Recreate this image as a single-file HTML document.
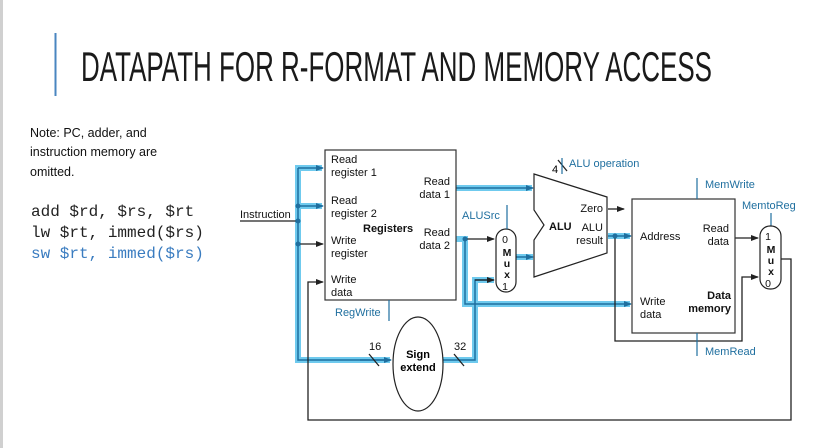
<!DOCTYPE html>
<html><head><meta charset="utf-8"><style>
html,body{margin:0;padding:0;background:#fff}
svg{display:block}
</style></head><body>
<svg width="832" height="448" viewBox="0 0 832 448" xmlns="http://www.w3.org/2000/svg" font-family="Liberation Sans, sans-serif">
<defs>
<marker id="a" markerWidth="8" markerHeight="6" refX="7" refY="3" orient="auto" markerUnits="userSpaceOnUse"><path d="M0,0 L8,3 L0,6 z" fill="#222"/></marker>
<marker id="b" markerWidth="8" markerHeight="6" refX="7" refY="3" orient="auto" markerUnits="userSpaceOnUse"><path d="M0,0 L8,3 L0,6 z" fill="#1f6f9f"/></marker>
</defs>
<rect x="0" y="0" width="3" height="448" fill="#d0d0d0"/>
<line x1="55.5" y1="33" x2="55.5" y2="96" stroke="#4a86c0" stroke-width="2"/>
<text x="81" y="81" font-size="42" textLength="631" lengthAdjust="spacingAndGlyphs" fill="#1a1a1a">DATAPATH FOR R-FORMAT AND MEMORY ACCESS</text>
<g font-size="12.5" fill="#111">
<text x="30" y="137">Note: PC, adder, and</text>
<text x="30" y="156">instruction memory are</text>
<text x="30" y="176">omitted.</text>
</g>
<g font-family="Liberation Mono, monospace" font-size="16">
<text x="31" y="216" fill="#222">add $rd, $rs, $rt</text>
<text x="31" y="237" fill="#222">lw $rt, immed($rs)</text>
<text x="31" y="258" fill="#3a7cc0">sw $rt, immed($rs)</text>
</g>
<!-- blue highlights -->
<g stroke="#6fcaee" stroke-width="6" fill="none" stroke-linejoin="miter">
<path d="M322,168 H298 V360 H390"/>
<path d="M298,206 H322"/>
<path d="M456,188 H532"/>
<path d="M456,239 H465 V304 H630"/>
<path d="M443,360 H475 V280 H494"/>
<path d="M516,257 H533"/>
<path d="M608,236 H630"/>
</g>
<g stroke="#1f6f9f" stroke-width="1.5" fill="none">
<path d="M298,168 V360 H390" />
<path d="M298,168 H323" marker-end="url(#b)"/>
<path d="M298,206 H323" marker-end="url(#b)"/>
<path d="M456,188 H533" marker-end="url(#b)"/>
<path d="M465,239 V304 H631" marker-end="url(#b)"/>
<path d="M443,360 H475 V280 H494"/>
<path d="M360,360 H391" marker-end="url(#b)"/>
<path d="M516,257 H533" marker-end="url(#b)"/>
<path d="M608,236 H631" marker-end="url(#b)"/>
</g>
<!-- black wires -->
<g stroke="#222" stroke-width="1.3" fill="none">
<path d="M240,221 H298"/>
<path d="M298,244 H323" marker-end="url(#a)"/>
<path d="M465,239 H494" marker-end="url(#a)"/>
<path d="M475,280 H494" marker-end="url(#a)"/>
<path d="M608,209 H624" marker-end="url(#a)"/>
<path d="M735,238 H758" marker-end="url(#a)"/>
<path d="M615,236 V341 H742 V277 H758" marker-end="url(#a)"/>
<path d="M781,259 H791 V420 H308 V282 H323" marker-end="url(#a)"/>
<path d="M369,354 L379,366"/>
<path d="M454,354 L464,366"/>
<path d="M558,160 L567,171"/>
</g>
<g fill="#1f6f9f">
<circle cx="298" cy="206" r="2.5"/><circle cx="298" cy="221" r="2.5"/><circle cx="298" cy="244" r="2.5"/>
<circle cx="465" cy="239" r="2.5"/><circle cx="615" cy="236" r="2.5"/>
</g>
<!-- registers -->
<rect x="325" y="150" width="131" height="150" fill="#fff" stroke="#333" stroke-width="1.2"/>
<g font-size="11" fill="#111">
<text x="240" y="218">Instruction</text>
<text x="331" y="163">Read</text><text x="331" y="176">register 1</text>
<text x="331" y="204">Read</text><text x="331" y="217">register 2</text>
<text x="331" y="244">Write</text><text x="331" y="257">register</text>
<text x="331" y="283">Write</text><text x="331" y="296">data</text>
<text x="450" y="185" text-anchor="end">Read</text><text x="450" y="198" text-anchor="end">data 1</text>
<text x="450" y="236" text-anchor="end">Read</text><text x="450" y="249" text-anchor="end">data 2</text>
<text x="363" y="232" font-weight="bold">Registers</text>
<text x="369" y="350">16</text><text x="454" y="350">32</text>
</g>
<line x1="389" y1="300" x2="389" y2="321" stroke="#1f6f9f" stroke-width="1.2"/>
<text x="335" y="316" font-size="11" fill="#1f6f9f">RegWrite</text>
<!-- sign extend -->
<ellipse cx="418" cy="364" rx="25" ry="47" fill="#fff" stroke="#222" stroke-width="1.2"/>
<text x="418" y="358" font-size="11" font-weight="bold" text-anchor="middle">Sign</text>
<text x="418" y="371" font-size="11" font-weight="bold" text-anchor="middle">extend</text>
<!-- mux1 -->
<rect x="496" y="229" width="20" height="63" rx="10" fill="#fff" stroke="#222" stroke-width="1.2"/>
<line x1="507" y1="205" x2="507" y2="229" stroke="#1f6f9f" stroke-width="1.2"/>
<text x="462" y="219" font-size="11" fill="#1f6f9f">ALUSrc</text>
<g font-size="10.5" text-anchor="middle" fill="#111">
<text x="505" y="243">0</text><text x="507" y="256" font-weight="bold">M</text><text x="507" y="267" font-weight="bold">u</text><text x="507" y="278" font-weight="bold">x</text><text x="505" y="290">1</text>
</g>
<!-- ALU -->
<path d="M534,174 L607,197 L607,253 L534,277 L534,240 L544,225 L534,210 Z" fill="#fff" stroke="#222" stroke-width="1.2"/>
<line x1="562" y1="174" x2="562" y2="158" stroke="#1f6f9f" stroke-width="1.2"/>
<text x="552" y="173" font-size="11">4</text>
<text x="569" y="167" font-size="11" fill="#1f6f9f">ALU operation</text>
<g font-size="11" fill="#111">
<text x="549" y="230" font-weight="bold">ALU</text>
<text x="603" y="212" text-anchor="end">Zero</text>
<text x="603" y="231" text-anchor="end">ALU</text><text x="603" y="244" text-anchor="end">result</text>
</g>
<!-- data memory -->
<rect x="632" y="199" width="103" height="134" fill="#fff" stroke="#333" stroke-width="1.2"/>
<g stroke="#1f6f9f" stroke-width="1.2"><line x1="697" y1="178" x2="697" y2="199"/><line x1="697" y1="333" x2="697" y2="356"/><line x1="771" y1="213" x2="771" y2="226"/></g>
<g font-size="11" fill="#1f6f9f">
<text x="705" y="188">MemWrite</text><text x="705" y="355">MemRead</text><text x="742" y="209">MemtoReg</text>
</g>
<g font-size="11" fill="#111">
<text x="640" y="240">Address</text>
<text x="729" y="232" text-anchor="end">Read</text><text x="729" y="245" text-anchor="end">data</text>
<text x="640" y="305">Write</text><text x="640" y="318">data</text>
<text x="731" y="299" text-anchor="end" font-weight="bold">Data</text><text x="731" y="312" text-anchor="end" font-weight="bold">memory</text>
</g>
<!-- mux2 -->
<rect x="760" y="226" width="21" height="63" rx="10" fill="#fff" stroke="#222" stroke-width="1.2"/>
<g font-size="10.5" text-anchor="middle" fill="#111">
<text x="768" y="240">1</text><text x="771" y="253" font-weight="bold">M</text><text x="771" y="264" font-weight="bold">u</text><text x="771" y="275" font-weight="bold">x</text><text x="768" y="287">0</text>
</g>
</svg>
</body></html>
